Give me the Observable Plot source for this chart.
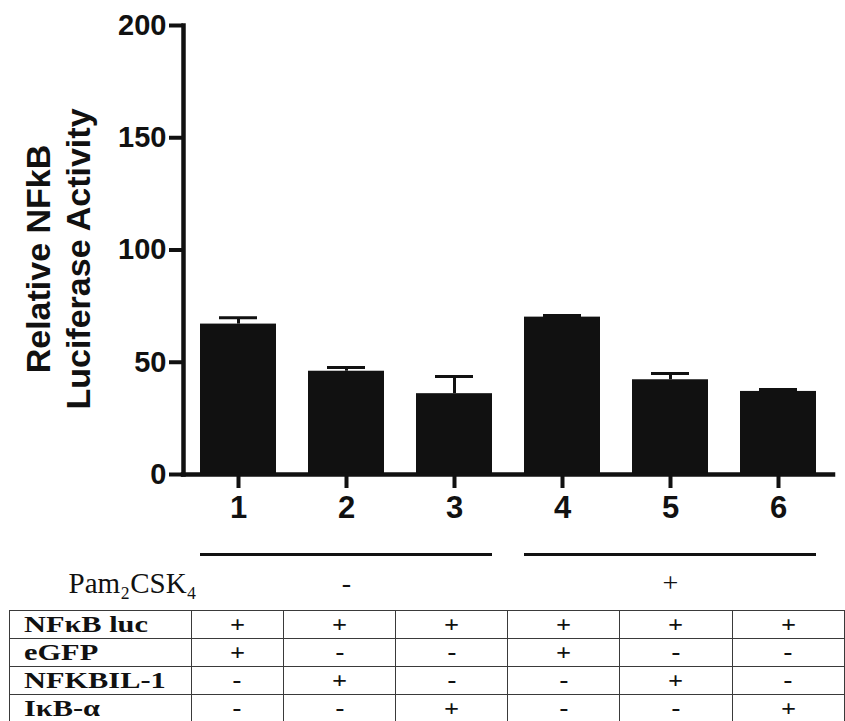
<!DOCTYPE html>
<html>
<head>
<meta charset="utf-8">
<script src="https://cdn.jsdelivr.net/npm/d3@7"></script>
<script src="https://cdn.jsdelivr.net/npm/@observablehq/plot@0.6"></script>
<style>
  html, body { margin: 0; padding: 0; background: #fff; }
  body { width: 845px; height: 721px; overflow: hidden; position: relative; }
  #chart, #anno { display: block; line-height: 0; }
  #tbl { position: absolute; left: 9px; top: 610px; border-collapse: collapse; table-layout: fixed; }
  #tbl td { border: 1px solid #3a3a3a; height: 27px; padding: 0; vertical-align: middle;
            font-family: "Liberation Serif", "Times New Roman", serif; font-weight: bold; color: #111; line-height: 1; }
  #tbl td.lab { text-align: left; font-size: 23px; }
  #tbl td.lab span { display: inline-block; transform: scaleX(1.32); transform-origin: left center; margin-left: 14px; }
  #tbl td.sg { text-align: center; font-size: 23px; }
  #tbl td.sg span { display: inline-block; transform: scaleX(1.15); }
</style>
</head>
<body>
<div id="chart"></div>
<div id="anno"></div>
<table id="tbl"></table>
<script>
// ---- data ----
const conditions = ["1", "2", "3", "4", "5", "6"];
const means = [67.0, 46.0, 36.0, 70.1, 42.2, 37.0];
const sems = [2.8, 1.7, 7.7, 0.7, 2.8, 0.9];
const yTicks = [0, 50, 100, 150, 200];
const yTitle = "Relative NFkB\nLuciferase Activity";

const pamLabel = "Pam\u2082CSK\u2084";
const pamGroups = ["-", "+"];
const groupStart = ["1", "4"];
const groupMid = ["2", "5"];
const groupEnd = ["3", "6"];

const rowLabels = ["NF\u03BAB luc", "eGFP", "NFKBIL-1", "I\u03BAB-\u03B1"];
const rowNFkBluc = ["+", "+", "+", "+", "+", "+"];
const rowEGFP = ["+", "-", "-", "+", "-", "-"];
const rowNFKBIL1 = ["-", "+", "-", "-", "+", "-"];
const rowIkBa = ["-", "-", "+", "-", "-", "+"];

// ---- build tables ----
const data = conditions.map((c, i) => ({cond: c, mean: means[i], upper: means[i] + sems[i]}));
const groups = pamGroups.map((s, i) => ({sign: s, start: groupStart[i], mid: groupMid[i], end: groupEnd[i]}));

const xOpts = {type: "band", domain: conditions, paddingInner: 0.3, paddingOuter: 0.15, align: 0.5};
const ink = "#111";

const chart = Plot.plot({
  width: 845,
  height: 530,
  marginTop: 25,
  marginBottom: 56,
  marginLeft: 183,
  marginRight: 12,
  style: {fontFamily: "'Liberation Sans', Arial, sans-serif", fontWeight: "bold", color: ink, background: "transparent", overflow: "visible"},
  x: {...xOpts, label: null},
  y: {domain: [0, 200], label: null},
  marks: [
    Plot.barY(data, {x: "cond", y: "mean", fill: ink}),
    Plot.ruleX(data, {x: "cond", y1: "mean", y2: "upper", stroke: ink, strokeWidth: 3}),
    Plot.tickY(data, {x: "cond", y: "upper", stroke: ink, strokeWidth: 3, insetLeft: 19, insetRight: 19}),
    Plot.axisY({ticks: yTicks, tickSize: 14, tickPadding: 3, tickFormat: (d) => String(d), fontSize: 29, strokeWidth: 4, label: null}),
    Plot.axisX({tickSize: 14, tickPadding: 7, fontSize: 31, strokeWidth: 4, label: null}),
    Plot.ruleY([0], {stroke: ink, strokeWidth: 4.5, strokeLinecap: "square"}),
    Plot.frame({anchor: "left", stroke: ink, strokeWidth: 4.5, strokeLinecap: "square"}),
    Plot.text([yTitle], {text: (d) => d, frameAnchor: "left", rotate: -90, dx: -126, dy: 9, fontSize: 34, lineHeight: 1.15, textAnchor: "middle", lineAnchor: "middle", fill: ink})
  ]
});
document.getElementById("chart").appendChild(chart);

const anno = Plot.plot({
  width: 845,
  height: 80,
  marginTop: 0,
  marginBottom: 0,
  marginLeft: 183,
  marginRight: 12,
  style: {fontFamily: "'Liberation Serif', 'Times New Roman', serif", color: ink, background: "transparent", overflow: "visible"},
  x: {...xOpts, axis: null},
  y: {type: "point", domain: ["line", "pam"], range: [24, 53], padding: 0, axis: null},
  marks: [
    Plot.ruleY(groups, {x1: "start", x2: "end", y: () => "line", stroke: ink, strokeWidth: 3}),
    Plot.text(groups, {x: "mid", y: () => "pam", text: "sign", fontSize: 28, fill: ink}),
    Plot.text([pamLabel], {text: (d) => d, y: () => "pam", frameAnchor: "left", textAnchor: "start", dx: -115, fontSize: 29, fill: ink})
  ]
});
document.getElementById("anno").appendChild(anno);

// ---- table ----
const rows = [rowNFkBluc, rowEGFP, rowNFKBIL1, rowIkBa];
const colWidths = [182, 93, 113, 112, 113, 113, 113];
const tbl = document.getElementById("tbl");
const cg = document.createElement("colgroup");
colWidths.forEach((w) => { const c = document.createElement("col"); c.style.width = w + "px"; cg.appendChild(c); });
tbl.appendChild(cg);
rowLabels.forEach((lab, r) => {
  const tr = document.createElement("tr");
  const th = document.createElement("td");
  th.className = "lab";
  th.innerHTML = "<span>" + lab + "</span>";
  tr.appendChild(th);
  rows[r].forEach((s) => {
    const td = document.createElement("td");
    td.className = "sg";
    td.innerHTML = "<span>" + s + "</span>";
    tr.appendChild(td);
  });
  tbl.appendChild(tr);
});
</script>
</body>
</html>
